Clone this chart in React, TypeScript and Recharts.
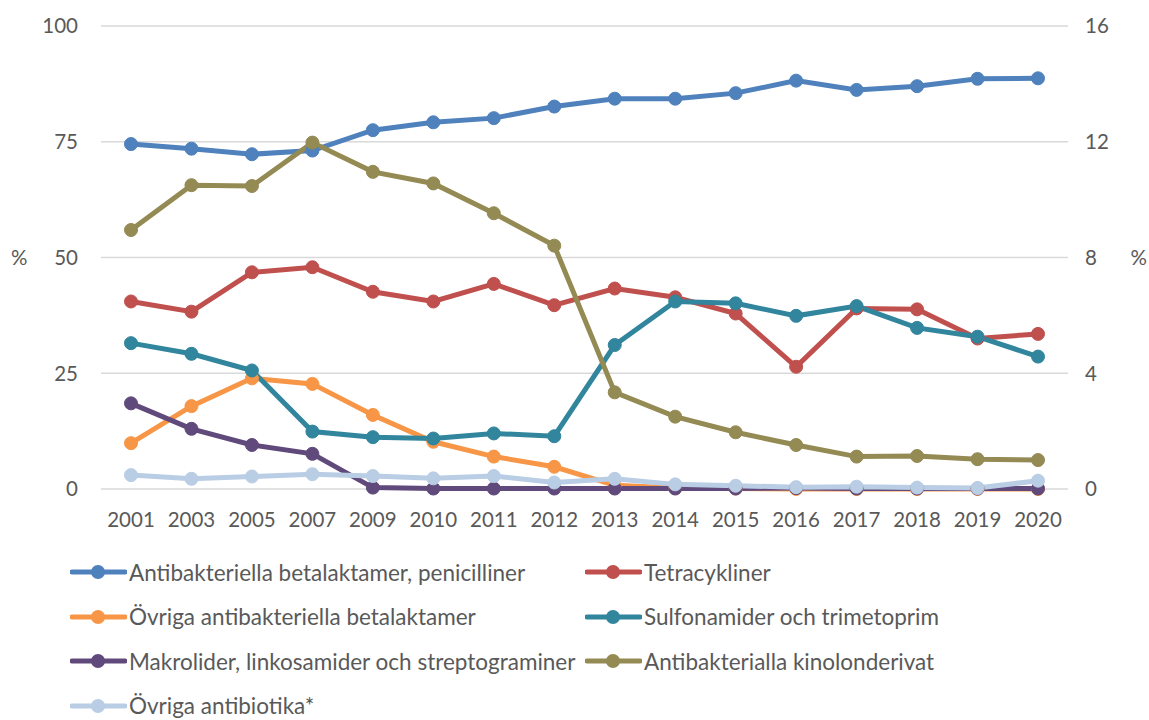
import {
  CartesianGrid,
  Legend,
  Line,
  LineChart,
  XAxis,
  YAxis,
} from "recharts";

const years = [
  "2001", "2003", "2005", "2007", "2009", "2010", "2011", "2012",
  "2013", "2014", "2015", "2016", "2017", "2018", "2019", "2020",
];

// left axis (%)
const penicilliner = [74.5, 73.5, 72.3, 73.1, 77.5, 79.2, 80.1, 82.6, 84.3, 84.3, 85.5, 88.2, 86.2, 87.0, 88.6, 88.7];
const tetracykliner = [40.5, 38.3, 46.8, 47.9, 42.6, 40.5, 44.3, 39.7, 43.3, 41.4, 37.9, 26.4, 39.0, 38.8, 32.5, 33.5];
const ovrigaBetalaktamer = [9.9, 17.9, 23.9, 22.7, 16.0, 10.2, 7.0, 4.8, 0.8, 0.2, 0.1, 0, 0, 0, 0, 0];
const sulfonamider = [31.5, 29.2, 25.6, 12.4, 11.2, 10.9, 12.0, 11.4, 31.1, 40.5, 40.1, 37.4, 39.5, 34.8, 32.9, 28.6];
const makrolider = [18.5, 13.0, 9.5, 7.6, 0.3, 0.1, 0.1, 0.1, 0.1, 0.1, 0.1, 0.2, 0.1, 0.1, 0.1, 0.1];
const ovrigaAntibiotika = [3.0, 2.2, 2.7, 3.2, 2.8, 2.3, 2.8, 1.4, 2.2, 1.0, 0.7, 0.4, 0.5, 0.3, 0.2, 1.8];
// right axis (%)
const kinolonderivat = [8.95, 10.5, 10.47, 11.97, 10.96, 10.56, 9.53, 8.41, 3.34, 2.5, 1.96, 1.52, 1.12, 1.14, 1.03, 1.0];

const leftTicks = [0, 25, 50, 75, 100];
const rightTicks = [0, 4, 8, 12, 16];

const series = [
  { key: "pen", name: "Antibakteriella betalaktamer, penicilliner", color: "#4F81BD", values: penicilliner, axis: "left" },
  { key: "tet", name: "Tetracykliner", color: "#C0504D", values: tetracykliner, axis: "left" },
  { key: "obl", name: "Övriga antibakteriella betalaktamer", color: "#F79646", values: ovrigaBetalaktamer, axis: "left" },
  { key: "sul", name: "Sulfonamider och trimetoprim", color: "#31859C", values: sulfonamider, axis: "left" },
  { key: "mak", name: "Makrolider, linkosamider och streptograminer", color: "#604A7B", values: makrolider, axis: "left" },
  { key: "kin", name: "Antibakterialla kinolonderivat", color: "#948A54", values: kinolonderivat, axis: "right" },
  { key: "ova", name: "Övriga antibiotika*", color: "#B9CDE5", values: ovrigaAntibiotika, axis: "left" },
];

const data = years.map((year, i) => {
  const row: Record<string, string | number> = { year };
  series.forEach((s) => {
    row[s.key] = s.values[i];
  });
  return row;
});

const FONT = "Lato, 'Liberation Sans', sans-serif";
const TEXT = "#595959";
const FS = 20.5;

function LegendContent() {
  return (
    <div
      style={{
        height: 181,
        paddingLeft: 70,
        display: "grid",
        gridTemplateColumns: "515px 500px",
        gridAutoRows: "44.5px",
        paddingTop: 11,
        boxSizing: "border-box",
        fontFamily: FONT,
        fontSize: 22.5,
        color: TEXT,
      }}
    >
      {series.map((s) => (
        <div key={s.key} style={{ display: "flex", alignItems: "center", whiteSpace: "nowrap" }}>
          <svg width={57} height={18} style={{ marginRight: 2 }}>
            <line x1={2} y1={9} x2={55} y2={9} stroke={s.color} strokeWidth={5} strokeLinecap="round" />
            <circle cx={28} cy={9} r={7} fill={s.color} />
          </svg>
          <span>{s.name}</span>
        </div>
      ))}
    </div>
  );
}

export default function App() {
  return (
    <div style={{ position: "absolute", left: 0, top: 0, background: "#fff" }}>
      <LineChart
        width={1149}
        height={720}
        data={data}
        margin={{ top: 26, right: 0, left: 0, bottom: 0 }}
      >
        <CartesianGrid vertical={false} stroke="#D9D9D9" strokeWidth={1.5} yAxisId="left" />
        <XAxis
          dataKey="year"
          axisLine={false}
          tickLine={false}
          tickSize={0}
          tickMargin={23}
          height={50}
          padding={{ left: 30, right: 30 }}
          interval={0}
          tick={{ fill: TEXT, fontSize: FS, fontFamily: FONT }}
        />
        <YAxis
          yAxisId="left"
          domain={[0, 100]}
          ticks={leftTicks}
          width={101}
          axisLine={false}
          tickLine={false}
          tickSize={0}
          tickMargin={23}
          tick={{ fill: TEXT, fontSize: FS, fontFamily: FONT }}
          label={{ value: "%", position: "insideLeft", offset: 11, fill: TEXT, fontSize: FS, fontFamily: FONT }}
        />
        <YAxis
          yAxisId="right"
          orientation="right"
          domain={[0, 16]}
          ticks={rightTicks}
          width={81}
          axisLine={false}
          tickLine={false}
          tickSize={0}
          tickMargin={17}
          tick={{ fill: TEXT, fontSize: FS, fontFamily: FONT, textAnchor: "start" }}
          label={{ value: "%", position: "insideRight", offset: 2, fill: TEXT, fontSize: FS, fontFamily: FONT }}
        />
        <Legend verticalAlign="bottom" content={<LegendContent />} />
        {series.map((s) => (
          <Line
            key={s.key}
            yAxisId={s.axis}
            dataKey={s.key}
            name={s.name}
            type="linear"
            stroke={s.color}
            strokeWidth={5}
            dot={{ r: 6.5, fill: s.color, stroke: s.color, strokeWidth: 1 }}
            activeDot={false}
            isAnimationActive={false}
          />
        ))}
      </LineChart>
    </div>
  );
}
